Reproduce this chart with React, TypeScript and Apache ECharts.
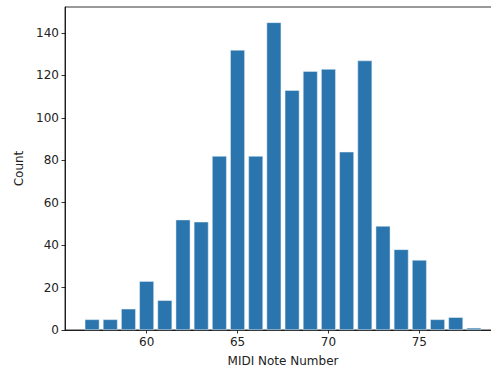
import React, { useEffect, useRef } from "react";
import * as echarts from "echarts";

const notes = [57, 58, 59, 60, 61, 62, 63, 64, 65, 66, 67, 68, 69, 70, 71, 72, 73, 74, 75, 76, 77, 78];
const counts = [5, 5, 10, 23, 14, 52, 51, 82, 132, 82, 145, 113, 122, 123, 84, 127, 49, 38, 33, 5, 6, 1];
const xTicks = [60, 65, 70, 75];
const yTicks = [0, 20, 40, 60, 80, 100, 120, 140];

export default function App() {
  const ref = useRef<HTMLDivElement>(null);
  useEffect(() => {
    if (!ref.current) return;
    const chart = echarts.init(ref.current, undefined, { renderer: "svg" });
    const font = "DejaVu Sans";
    chart.setOption({
      animation: false,
      backgroundColor: "#fff",
      grid: {
        left: 65, top: 7, width: 436, height: 323,
        outerBoundsMode: "none", containLabel: false,
        show: true, borderColor: "#000", borderWidth: 0.8, backgroundColor: "transparent",
      },
      xAxis: {
        type: "value",
        min: 55.51,
        max: 79.49,
        name: "MIDI Note Number",
        nameLocation: "middle",
        nameGap: 25,
        nameTextStyle: { fontFamily: font, fontSize: 12, color: "#222" },
        axisLine: { show: true, lineStyle: { color: "#000", width: 0.8 } },
        axisTick: { show: true, length: 3.5, lineStyle: { color: "#000", width: 0.8 }, customValues: xTicks },
        axisLabel: { fontFamily: font, fontSize: 12, color: "#222", margin: 6, customValues: xTicks },
        splitLine: { show: false },
      },
      yAxis: {
        type: "value",
        min: 0,
        max: 152.25,
        name: "Count",
        nameLocation: "middle",
        nameGap: 39,
        nameRotate: 90,
        nameTextStyle: { fontFamily: font, fontSize: 12, color: "#222" },
        axisLine: { show: true, lineStyle: { color: "#000", width: 0.8 } },
        axisTick: { show: true, length: 3.5, lineStyle: { color: "#000", width: 0.8 }, customValues: yTicks },
        axisLabel: { fontFamily: font, fontSize: 12, color: "#222", margin: 6, customValues: yTicks },
        splitLine: { show: false },
      },
      series: [
        {
          type: "bar",
          data: notes.map((n, i) => [n, counts[i]]),
          barWidth: 14.6,
          itemStyle: { color: "#2a75ad", borderColor: "#e8f0f7", borderWidth: 0.5 },
        },
      ],
    });
    return () => chart.dispose();
  }, []);
  return <div ref={ref} style={{ position: "fixed", left: 0, top: 0, width: 491, height: 369 }} />;
}
